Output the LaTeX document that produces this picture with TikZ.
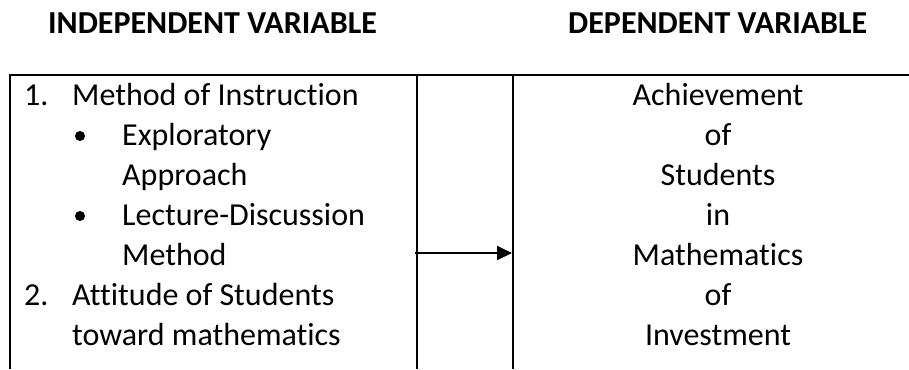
\documentclass[tikz,border=0pt]{standalone}
\usepackage{fontspec}
\setmainfont[Ligatures={NoCommon}]{Carlito}
\usetikzlibrary{arrows.meta,positioning}

\begin{document}
\begin{tikzpicture}[x=1pt,y=-1pt]
  	\tikzstyle{head}=[font=\fontsize{32}{38}\selectfont\bfseries, anchor=base west, inner sep=0]
  	\tikzstyle{item}=[font=\fontsize{32}{40}\selectfont, anchor=base west, inner sep=0]
  	\tikzstyle{dep}=[font=\fontsize{32}{40}\selectfont, anchor=base, inner sep=0]
  	\tikzstyle{dot}=[circle, fill=black, inner sep=0, minimum size=10pt]
  	\tikzstyle{rule}=[line width=2pt]
  	\tikzstyle{connect}=[-{Triangle[length=15pt,width=14pt]}, line width=2pt]
  	\useasboundingbox (0,0) rectangle (909,369);
  	\node[head] (iv) at (48,34) {INDEPENDENT VARIABLE};
  	\node[head] (dv) at (568,34) {DEPENDENT VARIABLE};
  	% table rules, open at the bottom and right
  	\draw[rule] (10,369) -- (10,75) -- (909,75);
  	\draw[rule] (417,75) -- (417,369);
  	\draw[rule] (513,75) -- (513,369);
  	% independent side
  	\node[item] (n1) at (24,105) {1.};
  	\node[item] (m1) at (72,105) {Method of Instruction};
  	\node[dot] (b1) at (80,136) {};
  	\node[item] (e1) at (122,145) {Exploratory};
  	\node[item] (e2) at (122,185) {Approach};
  	\node[dot] (b2) at (80,216) {};
  	\node[item] (l1) at (122,225) {Lecture-Discussion};
  	\node[item] (l2) at (122,265) {Method};
  	\node[item] (n2) at (24,305) {2.};
  	\node[item] (a1) at (72,305) {Attitude of Students};
  	\node[item] (a2) at (72,345) {toward mathematics};
  	% dependent side
  	\node[dep] (d1) at (718,105) {Achievement};
  	\node[dep] (d2) at (718,145) {of};
  	\node[dep] (d3) at (718,185) {Students};
  	\node[dep] (d4) at (718,225) {in};
  	\node[dep] (d5) at (718,265) {Mathematics};
  	\node[dep] (d6) at (718,305) {of};
  	\node[dep] (d7) at (718,345) {Investment};
  	% arrow between the two rules
  	\coordinate (from) at (415,253);
  	\coordinate (to) at (512,253);
  	\path (from) edge [connect] (to);
\end{tikzpicture}
\end{document}
